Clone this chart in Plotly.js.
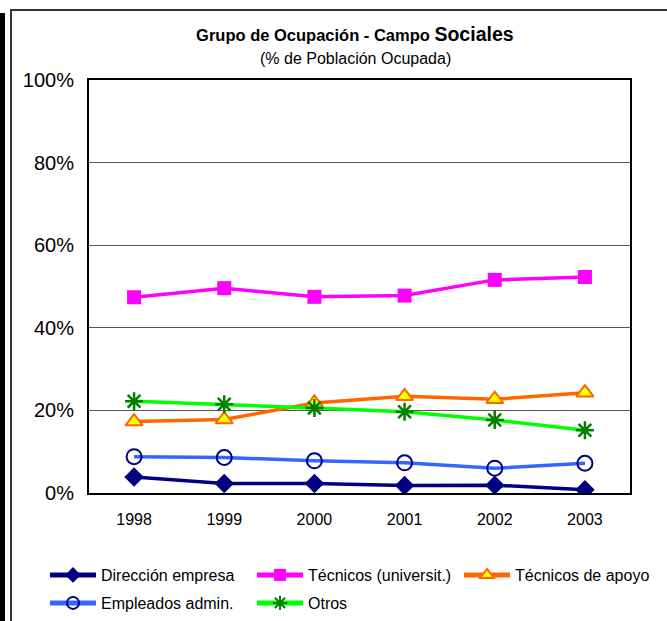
<!DOCTYPE html>
<html>
<head>
<meta charset="utf-8">
<script src="https://cdn.plot.ly/plotly-3.0.1.min.js"></script>
<style>
  html, body { margin: 0; padding: 0; background: #fff; }
  #wrap { position: relative; width: 667px; height: 621px; overflow: hidden; }
  #chart { position: absolute; left: 0; top: 0; width: 667px; height: 621px; }
  #bar { position: absolute; left: 0; top: 13px; width: 5px; height: 620px; background: #000; z-index: 2; }
  #frame { position: absolute; left: 10px; top: 9px; width: 700px; height: 700px; border-left: 2px solid #333; border-top: 2px solid #333; z-index: 2; pointer-events: none; }
</style>
</head>
<body>
<div id="wrap">
  <div id="chart"></div>
  <div id="bar"></div>
  <div id="frame"></div>
</div>
<script>
const years = ['1998', '1999', '2000', '2001', '2002', '2003'];
const direccionEmpresa = [3.9, 2.3, 2.3, 1.8, 1.9, 0.8];
const tecnicosUniversit = [47.4, 49.6, 47.5, 47.8, 51.6, 52.3];
const tecnicosApoyo = [17.3, 17.8, 21.8, 23.4, 22.7, 24.3];
const empleadosAdmin = [8.8, 8.6, 7.8, 7.3, 6.0, 7.2];
const otros = [22.2, 21.5, 20.6, 19.7, 17.7, 15.2];
const yTickVals = [0, 20, 40, 60, 80, 100];
const yTickText = ['0%', '20%', '40%', '60%', '80%', '100%'];

const FONT = 'Liberation Sans, Arial, sans-serif';

const traces = [
  {
    name: 'Dirección empresa', x: years, y: direccionEmpresa, type: 'scatter', mode: 'lines+markers',
    line: { color: '#000080', width: 3.5 },
    marker: { symbol: 'diamond', size: 15, color: '#000080' },
    legend: 'legend'
  },
  {
    name: 'Técnicos (universit.)', x: years, y: tecnicosUniversit, type: 'scatter', mode: 'lines+markers',
    line: { color: '#FF00FF', width: 3.5 },
    marker: { symbol: 'square', size: 14, color: '#FF00FF' },
    legend: 'legend'
  },
  {
    name: 'Técnicos de apoyo', x: years, y: tecnicosApoyo, type: 'scatter', mode: 'lines+markers',
    line: { color: '#FF6600', width: 3.5 },
    marker: { symbol: 'triangle-up', size: 15, color: '#FFFF00', line: { color: '#FF6600', width: 2 } },
    legend: 'legend3'
  },
  {
    name: 'Empleados admin.', x: years, y: empleadosAdmin, type: 'scatter', mode: 'lines+markers',
    line: { color: '#3366FF', width: 3.5 },
    marker: { symbol: 'circle-open', size: 15, color: '#000080', line: { width: 2 } },
    legend: 'legend2'
  },
  {
    name: 'Otros', x: years, y: otros, type: 'scatter', mode: 'lines+markers',
    line: { color: '#00FF00', width: 3.5 },
    marker: { symbol: 'asterisk-open', size: 15, color: '#008000', line: { color: '#008000', width: 2.5 } },
    legend: 'legend2'
  }
];

const legendCommon = {
  orientation: 'h', xref: 'container', yref: 'container',
  xanchor: 'left', yanchor: 'middle',
  font: { family: FONT, size: 16, color: '#000' },
  bgcolor: 'rgba(0,0,0,0)', borderwidth: 0,
  itemwidth: 46, itemsizing: 'constant',
  entrywidth: 146, entrywidthmode: 'pixels',
  itemclick: false, itemdoubleclick: false,
  tracegroupgap: 0
};

const layout = {
  width: 667, height: 621,
  paper_bgcolor: '#fff', plot_bgcolor: '#fff',
  margin: { l: 89, r: 37, t: 80, b: 128 },
  font: { family: FONT, color: '#000' },
  title: {
    text: "<b>Grupo de Ocupación - Campo <span style='font-size:19.5px'>Sociales</span></b>",
    font: { family: FONT, size: 16.5, color: '#000' },
    xref: 'container', x: 0.532, xanchor: 'center',
    yref: 'container', y: 1 - 35 / 621, yanchor: 'middle'
  },
  annotations: [{
    text: '(% de Población Ocupada)', showarrow: false,
    xref: 'paper', x: 0.5, xshift: -4, xanchor: 'center',
    yref: 'paper', y: 1, yshift: 22, yanchor: 'middle',
    font: { family: FONT, size: 16, color: '#000' }
  }],
  xaxis: {
    type: 'category', range: [-0.5, 5.5],
    showline: true, linecolor: '#000', linewidth: 2, mirror: true,
    showgrid: false, zeroline: false, ticks: '',
    tickfont: { family: FONT, size: 16, color: '#000' },
    ticklabelstandoff: 11
  },
  yaxis: {
    range: [0, 100], tickvals: yTickVals, ticktext: yTickText,
    showline: true, linecolor: '#000', linewidth: 2, mirror: true,
    showgrid: true, gridcolor: '#555', gridwidth: 1, zeroline: false, ticks: '',
    tickfont: { family: FONT, size: 20, color: '#000' },
    ticklabelstandoff: 9
  },
  showlegend: true,
  legend: Object.assign({}, legendCommon, { x: 45 / 667, y: 1 - 575 / 621 }),
  legend3: Object.assign({}, legendCommon, { x: 459 / 667, y: 1 - 575 / 621 }),
  legend2: Object.assign({}, legendCommon, { x: 45 / 667, y: 1 - 603 / 621 })
};

Plotly.newPlot('chart', traces, layout, { staticPlot: true, displayModeBar: false });
</script>
</body>
</html>
